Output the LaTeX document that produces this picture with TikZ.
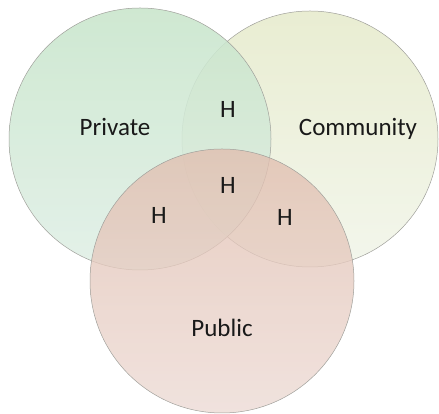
\documentclass[tikz,border=0pt]{standalone}
\usepackage{fontspec}
\setmainfont{Carlito}
\usetikzlibrary{positioning}

\definecolor{privtop}{RGB}{200,229,203}
\definecolor{privbot}{RGB}{224,239,230}
\definecolor{commtop}{RGB}{233,237,210}
\definecolor{commbot}{RGB}{243,246,236}
\definecolor{pubtop}{RGB}{225,190,175}
\definecolor{pubbot}{RGB}{236,218,212}
\definecolor{rimgray}{RGB}{160,160,155}

\begin{document}
\begin{tikzpicture}[
  x=1pt,y=1pt,
  setcircle/.style={
    circle,
    draw=rimgray,
    line width=0.5pt,
    inner sep=0pt
  },
  privateset/.style={
    setcircle,
    top color=privtop,
    bottom color=privbot,
    fill opacity=0.88,
    minimum size=262pt
  },
  communityset/.style={
    setcircle,
    top color=commtop,
    bottom color=commbot,
    minimum size=256pt
  },
  publicset/.style={
    setcircle,
    top color=pubtop,
    bottom color=pubbot,
    fill opacity=0.78,
    minimum size=264pt
  },
  setlabel/.style={
    font=\fontsize{25}{30}\selectfont,
    text=black!90,
    text depth=0,
    inner sep=0pt
  }]
  \useasboundingbox (0,0) rectangle (439,414);

  % the three sets
  \node [communityset] (community) at (310,275) {};
  \node [privateset] (private) at (140,275) {};
  \node [publicset] (public) at (222,133) {};

  % set names
  \node [setlabel] (privatetxt) at (115,287) {Private};
  \node [setlabel] (communitytxt) at (358,287) {Community};
  \node [setlabel] (publictxt) at (222,86) {Public};

  % overlaps
  \node [setlabel] (hpc) at (228,305) {H};
  \node [setlabel] (hall) at (228,229) {H};
  \node [setlabel] (hpp) at (159,199) {H};
  \node [setlabel] (hcp) at (285,197) {H};

\end{tikzpicture}
\end{document}
